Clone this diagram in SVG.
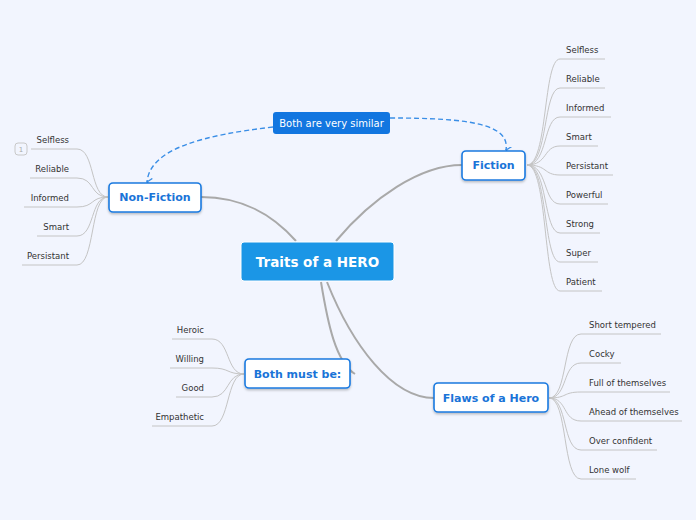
<svg xmlns="http://www.w3.org/2000/svg" width="696" height="520" viewBox="0 0 696 520">
<defs>
<style>
.bg{fill:#f2f5fe}
.main{stroke:#a9a9a9;stroke-width:2;fill:none}
.leaf{stroke:#c4c4c4;stroke-width:1;fill:none}
.rel{stroke:#3a8ee6;stroke-width:1.4;fill:none;stroke-dasharray:5,3}
.topic{fill:#ffffff;stroke:#1a7ae0;stroke-width:1.6}
.tt{font-family:"DejaVu Sans",Verdana,sans-serif;font-weight:bold;font-size:11px;fill:#1a74d8;text-anchor:middle}
.lt{font-family:"DejaVu Sans",Verdana,sans-serif;font-size:8.5px;fill:#333}
.end{text-anchor:end}
</style>
<filter id="sh" x="-20%" y="-20%" width="140%" height="160%">
<feDropShadow dx="0" dy="1.5" stdDeviation="1" flood-color="#000" flood-opacity="0.25"/>
</filter>
<marker id="arr" markerWidth="8" markerHeight="8" refX="4" refY="6" orient="auto-start-reverse" markerUnits="userSpaceOnUse" viewBox="0 0 8 8">
<path d="M0,1 L4,6 L8,1" fill="none" stroke="#3a8ee6" stroke-width="1.3"/>
</marker>
</defs>
<rect class="bg" x="0" y="0" width="696" height="520"/>
<g id="connectors">
<path class="main" d="M296,241 C270,212 240,197 201,197"/>
<path class="main" d="M336,241 C372,198 420,165 462,165"/>
<path class="main" d="M321,282 C328,325 336,362 355,374"/>
<path class="main" d="M327,282 C352,345 392,398 434,398"/>
<!-- Fiction leaves -->
<path class="leaf" d="M527,165 C548,165 543,59 560,59 H605"/>
<path class="leaf" d="M527,165 C548,165 543,88 560,88 H605"/>
<path class="leaf" d="M527,165 C548,165 543,117 560,117 H611"/>
<path class="leaf" d="M527,165 C548,165 543,146 560,146 H598"/>
<path class="leaf" d="M527,165 C548,165 543,175 560,175 H613"/>
<path class="leaf" d="M527,165 C548,165 543,204 560,204 H608"/>
<path class="leaf" d="M527,165 C548,165 543,233 560,233 H600"/>
<path class="leaf" d="M527,165 C548,165 543,262 560,262 H598"/>
<path class="leaf" d="M527,165 C548,165 543,291 560,291 H602"/>
<!-- Non-Fiction leaves -->
<path class="leaf" d="M108,197 C90,197 95,149 77,149 H31"/>
<path class="leaf" d="M108,197 C90,197 95,178 77,178 H30"/>
<path class="leaf" d="M108,197 C90,197 95,207 77,207 H24"/>
<path class="leaf" d="M108,197 C90,197 95,236 77,236 H37"/>
<path class="leaf" d="M108,197 C90,197 95,265 77,265 H22"/>
<!-- Both must be leaves -->
<path class="leaf" d="M244,374 C226,374 230,339 212,339 H172"/>
<path class="leaf" d="M244,374 C226,374 230,368 212,368 H170"/>
<path class="leaf" d="M244,374 C226,374 230,397 212,397 H176"/>
<path class="leaf" d="M244,374 C226,374 230,426 212,426 H152"/>
<!-- Flaws leaves -->
<path class="leaf" d="M549,398 C568,398 562,334 581,334 H661"/>
<path class="leaf" d="M549,398 C568,398 562,363 581,363 H621"/>
<path class="leaf" d="M549,398 C568,398 562,392 581,392 H670"/>
<path class="leaf" d="M549,398 C568,398 562,421 581,421 H682"/>
<path class="leaf" d="M549,398 C568,398 562,450 581,450 H657"/>
<path class="leaf" d="M549,398 C568,398 562,479 581,479 H636"/>
<!-- relationship -->
<path class="rel" d="M273,127 C205,135 150,148 147,182" marker-end="url(#arr)"/>
<path class="rel" d="M390,118 C470,118 510,124 506,150" marker-end="url(#arr)"/>
</g>
<g id="central">
<rect x="241" y="242" width="153" height="39" rx="3" fill="#1b96e6" stroke="#ffffff" stroke-width="1"/>
<text x="317.5" y="266.5" font-family="DejaVu Sans,Verdana,sans-serif" font-weight="bold" font-size="13.5px" fill="#ffffff" text-anchor="middle">Traits of a HERO</text>
</g>
<g id="fiction">
<rect class="topic" x="462" y="151" width="63" height="29" rx="4" filter="url(#sh)"/>
<text class="tt" x="493.5" y="169">Fiction</text>
</g>
<g id="nonfiction">
<rect class="topic" x="109" y="183" width="92" height="29" rx="4" filter="url(#sh)"/>
<text class="tt" x="155" y="201">Non-Fiction</text>
</g>
<g id="bothmust">
<rect class="topic" x="245" y="359" width="105" height="29" rx="4" filter="url(#sh)"/>
<text class="tt" x="297.5" y="378">Both must be:</text>
</g>
<g id="flaws">
<rect class="topic" x="434" y="383" width="114" height="29" rx="4" filter="url(#sh)"/>
<text class="tt" x="491" y="402">Flaws of a Hero</text>
</g>
<g id="relationship-label">
<rect x="273" y="112" width="117" height="22" rx="3" fill="#1276e0"/>
<text x="331.5" y="127" font-family="DejaVu Sans,Verdana,sans-serif" font-size="10px" fill="#ffffff" text-anchor="middle">Both are very similar</text>
</g>
<g id="fiction-leaves" class="lt">
<text class="lt" x="566" y="53">Selfless</text>
<text class="lt" x="566" y="82">Reliable</text>
<text class="lt" x="566" y="111">Informed</text>
<text class="lt" x="566" y="140">Smart</text>
<text class="lt" x="566" y="169">Persistant</text>
<text class="lt" x="566" y="198">Powerful</text>
<text class="lt" x="566" y="227">Strong</text>
<text class="lt" x="566" y="256">Super</text>
<text class="lt" x="566" y="285">Patient</text>
</g>
<g id="nonfiction-leaves">
<text class="lt end" x="69" y="143">Selfless</text>
<text class="lt end" x="69" y="172">Reliable</text>
<text class="lt end" x="69" y="201">Informed</text>
<text class="lt end" x="69" y="230">Smart</text>
<text class="lt end" x="69" y="259">Persistant</text>
<rect x="15" y="143" width="12" height="12" rx="3" fill="none" stroke="#c8c8c8" stroke-width="1"/>
<text x="21" y="152" font-family="DejaVu Sans,sans-serif" font-size="7px" fill="#aaa" text-anchor="middle">1</text>
</g>
<g id="bothmust-leaves">
<text class="lt end" x="204" y="333">Heroic</text>
<text class="lt end" x="204" y="362">Willing</text>
<text class="lt end" x="204" y="391">Good</text>
<text class="lt end" x="204" y="420">Empathetic</text>
</g>
<g id="flaws-leaves">
<text class="lt" x="589" y="328">Short tempered</text>
<text class="lt" x="589" y="357">Cocky</text>
<text class="lt" x="589" y="386">Full of themselves</text>
<text class="lt" x="589" y="415">Ahead of themselves</text>
<text class="lt" x="589" y="444">Over confident</text>
<text class="lt" x="589" y="473">Lone wolf</text>
</g>
</svg>
